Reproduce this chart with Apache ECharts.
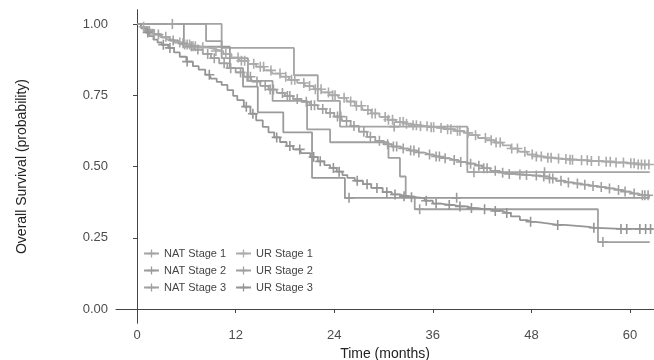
<!DOCTYPE html>
<html><head><meta charset="utf-8">
<script src="https://cdn.jsdelivr.net/npm/echarts@6/dist/echarts.min.js"></script>
<style>html,body{margin:0;padding:0;background:#fff}#c{width:654px;height:360px}</style>
</head><body><div id="c"></div>
<script>
// ---- data ----
const seriesNames = ['NAT Stage 1','NAT Stage 2','NAT Stage 3','UR Stage 1','UR Stage 2','UR Stage 3'];
const xTicks = [0,12,24,36,48,60];
const yTicks = [0,0.25,0.5,0.75,1];

// NAT (step curves)
const nat1Times = [0,10.3,19.1,22.0,24.7,40.2,62.4];
const nat1Surv  = [1,0.916,0.82,0.73,0.64,0.48,0.48];
const nat1Cens  = [4.3,31.3,41.0,49.6];

const nat2Times = [0,5.7,11.3,12.9,14.7,17.8,21.3,25.3,62.4];
const nat2Surv  = [1,0.92,0.845,0.78,0.69,0.62,0.46,0.39,0.39];
const nat2Cens  = [25.8,38.9];

const nat3Times = [0,8.4,10.3,13.5,16.5,20.7,23.5,30.6,32.0,32.7,33.8,56.1,62.4];
const nat3Surv  = [1,0.94,0.88,0.80,0.73,0.63,0.585,0.53,0.465,0.395,0.35,0.235,0.235];
const nat3Cens  = [34.4,56.7];

// UR (large groups)
const ur1Times = [0,0.5,1.2,2.0,2.8,3.6,4.5,5.5,6.5,7.5,8.5,9.5,10.5,11.5,12.5,13.5,14.5,15.5,16.5,17.5,18.5,19.5,20.5,21.5,22.5,23.5,24.5,25.5,26.5,27.5,28.5,29.5,30.5,31.5,32.5,33.5,34.5,35.5,36.5,37.5,38.5,39.5,40.5,41.5,42.5,43.5,44.5,45.5,46.5,47.5,48.5,49.5,50.5,51.5,52.5,53.5,55,56.5,58,59.5,61,62.4];
const ur1Surv  = [1,0.99,0.98,0.965,0.955,0.945,0.935,0.928,0.922,0.918,0.912,0.905,0.895,0.882,0.871,0.86,0.85,0.837,0.826,0.815,0.804,0.793,0.782,0.771,0.76,0.75,0.741,0.728,0.713,0.698,0.686,0.674,0.664,0.656,0.65,0.645,0.641,0.638,0.635,0.631,0.625,0.618,0.61,0.6,0.592,0.584,0.574,0.563,0.552,0.542,0.535,0.531,0.528,0.526,0.524,0.522,0.519,0.517,0.514,0.511,0.507,0.504];
const ur1Cens  = [0.8,2.1,3.5,5.2,5.8,6.1,6.4,6.8,7.1,8.0,9.6,10.8,12.3,12.7,13.1,14.2,15.0,15.4,16.3,17.4,18.1,18.8,19.2,20.3,21.0,21.7,22.4,23.3,23.8,24.1,25.2,26.0,26.7,27.3,28.1,28.6,29.0,30.2,30.6,31.1,32.0,32.4,32.8,33.6,34.0,34.5,35.3,35.8,36.1,37.0,37.8,38.2,39.0,39.3,40.3,41.2,42.4,43.1,43.7,44.2,45.6,46.3,47.2,48.1,48.6,49.2,50.0,50.4,51.3,52.2,52.7,53.0,54.1,54.8,55.3,56.2,57.1,57.6,58.3,59.2,60.1,60.5,61.0,61.4,61.8,62.3];

const ur2Times = [0,0.5,1.2,2.0,3.0,4.0,5.0,6.0,7.0,8.0,9.0,10.0,11.0,12.0,13.0,14.0,15.0,16.0,17.0,18.0,19.0,20.0,21.0,22.0,23.0,24.0,25.0,26.0,27.0,28.0,29.0,30.0,31.0,32.0,33.0,34.0,35.0,36.0,37.0,38.0,39.0,40.0,41.0,42.0,43.0,44.0,45.0,46.0,47.0,48.0,49.0,50.0,51.0,52.0,53.0,54.0,55.0,56.0,57.0,58.0,59.0,60.0,61.0,62.4];
const ur2Surv  = [1,0.99,0.975,0.963,0.952,0.942,0.932,0.922,0.91,0.895,0.88,0.862,0.845,0.83,0.815,0.798,0.783,0.77,0.758,0.747,0.737,0.727,0.715,0.702,0.688,0.675,0.66,0.642,0.622,0.604,0.59,0.578,0.57,0.563,0.556,0.549,0.542,0.535,0.529,0.523,0.516,0.51,0.503,0.494,0.485,0.478,0.474,0.472,0.47,0.468,0.465,0.458,0.45,0.444,0.44,0.436,0.432,0.428,0.423,0.418,0.412,0.405,0.399,0.392];
const ur2Cens  = [1.5,2.6,4.4,5.6,6.6,7.4,8.6,9.4,10.6,11.4,12.6,13.4,13.8,14.6,15.6,16.2,16.6,17.7,18.3,18.6,19.5,20.6,21.2,21.6,22.6,23.5,24.4,24.8,25.5,26.4,27.6,28.4,29.5,30.5,31.2,31.6,32.4,33.3,33.7,34.3,35.6,36.4,36.8,37.5,38.6,39.4,40.6,41.6,42.2,42.6,43.6,44.5,45.3,46.6,47.4,48.6,49.5,50.2,50.6,51.6,52.5,53.6,54.5,55.5,56.5,57.5,58.6,59.4,60.5,61.5,61.8,62.2];

const ur3Times = [0,0.5,1.0,1.5,2.0,2.5,3.0,3.8,4.5,5.2,6.0,6.8,7.5,8.3,9.0,9.7,10.3,11.0,11.7,12.2,13.0,13.8,14.5,15.3,16.0,16.7,17.4,18.2,19.0,20.0,21.1,22.0,22.8,23.5,24.3,25.0,25.6,26.5,27.5,28.5,29.9,31.0,32.0,33.0,34.1,35.0,36.0,37.0,38.5,40.2,41.5,43.0,44.5,45.5,46.6,47.5,48.5,49.5,50.6,52.0,53.9,55.0,56.0,62.8];
const ur3Surv  = [1,0.985,0.97,0.957,0.945,0.935,0.927,0.916,0.9,0.885,0.868,0.852,0.84,0.822,0.808,0.797,0.786,0.768,0.748,0.733,0.71,0.685,0.662,0.639,0.62,0.602,0.586,0.572,0.56,0.547,0.533,0.518,0.505,0.495,0.482,0.47,0.46,0.45,0.438,0.425,0.41,0.402,0.396,0.392,0.389,0.38,0.37,0.365,0.36,0.354,0.35,0.344,0.337,0.325,0.312,0.306,0.302,0.298,0.295,0.291,0.288,0.285,0.281,0.281];
const ur3Cens  = [1.3,3.2,4.0,6.1,8.8,13.3,14.1,17.0,18.6,19.8,21.5,22.3,23.9,24.6,26.8,28.0,29.2,30.4,31.4,32.5,33.4,35.2,36.4,38.0,39.3,40.7,42.3,43.6,45.0,47.9,51.2,55.6,58.9,59.6,61.2,61.9,62.5];

// ---- build ----
const groups = [
  [nat1Times,nat1Surv,nat1Cens,'#a4a4a4'],
  [nat2Times,nat2Surv,nat2Cens,'#9a9a9a'],
  [nat3Times,nat3Surv,nat3Cens,'#a0a0a0'],
  [ur1Times,ur1Surv,ur1Cens,'#ababab'],
  [ur2Times,ur2Surv,ur2Cens,'#a1a1a1'],
  [ur3Times,ur3Surv,ur3Cens,'#959595']
];
const plus = 'path://M4.2,0H5.8V4.2H10V5.8H5.8V10H4.2V5.8H0V4.2H4.2Z';
function stepAt(times, surv, c){ let v = surv[0]; for (let i=0;i<times.length;i++){ if (times[i] <= c) v = surv[i]; } return v; }
const series = groups.map((g, k) => {
  const [times, surv, cens, col] = g;
  const pts = times.map((t,i) => ({value:[t, surv[i]], none:true, ord:0}));
  cens.forEach(c => pts.push({value:[c, stepAt(times, surv, c)], none:false, ord:1}));
  pts.sort((a,b) => a.value[0]-b.value[0] || a.ord-b.ord);
  return {
    name: seriesNames[k], type:'line', step:'end',
    data: pts.map(p => p.none ? {value:p.value, symbol:'none'} : {value:p.value}),
    symbol: plus, symbolSize: 10, showSymbol:true, showAllSymbol:true,
    lineStyle:{color:col, width:1.8}, itemStyle:{color:col},
    emphasis:{disabled:true}, z: 2
  };
});

const font = 'Liberation Sans, Arial, sans-serif';
const chart = echarts.init(document.getElementById('c'), null, {renderer:'canvas'});
chart.setOption({
  animation:false,
  backgroundColor:'#ffffff',
  grid:{left:116, right:0, top:9.7, bottom:36.7, containLabel:false, outerBoundsMode:'none'},
  xAxis:{
    type:'value', min:-2.56, max:62.92,
    name:'Time (months)', nameLocation:'middle', nameGap:22,
    nameTextStyle:{fontSize:14, color:'#222', fontFamily:font},
    axisLine:{show:true, lineStyle:{color:'#444', width:1}},
    axisTick:{show:true, length:4, lineStyle:{color:'#444'}, customValues:xTicks},
    axisLabel:{fontSize:13, color:'#4d4d4d', fontFamily:font, margin:6, customValues:xTicks},
    splitLine:{show:false}
  },
  yAxis:{
    type:'value', min:-0.05, max:1.05,
    name:'Overall Survival (probability)', nameLocation:'middle', nameGap:87, nameRotate:90,
    nameTextStyle:{fontSize:14, color:'#222', fontFamily:font},
    axisLine:{show:true, lineStyle:{color:'#444', width:1}},
    axisTick:{show:true, length:4, lineStyle:{color:'#444'}, customValues:yTicks},
    axisLabel:{fontSize:13, color:'#4d4d4d', fontFamily:font, margin:8, customValues:yTicks, formatter: v => v.toFixed(2)},
    splitLine:{show:false}
  },
  legend:[
    {data:seriesNames.slice(0,3), orient:'vertical', left:138, top:243, itemWidth:15, itemHeight:10, itemGap:6,
     textStyle:{fontSize:11, color:'#444', fontFamily:font}, selectedMode:false},
    {data:seriesNames.slice(3), orient:'vertical', left:230, top:243, itemWidth:15, itemHeight:10, itemGap:6,
     textStyle:{fontSize:11, color:'#444', fontFamily:font}, selectedMode:false}
  ],
  series: series
});
</script>
</body></html>
